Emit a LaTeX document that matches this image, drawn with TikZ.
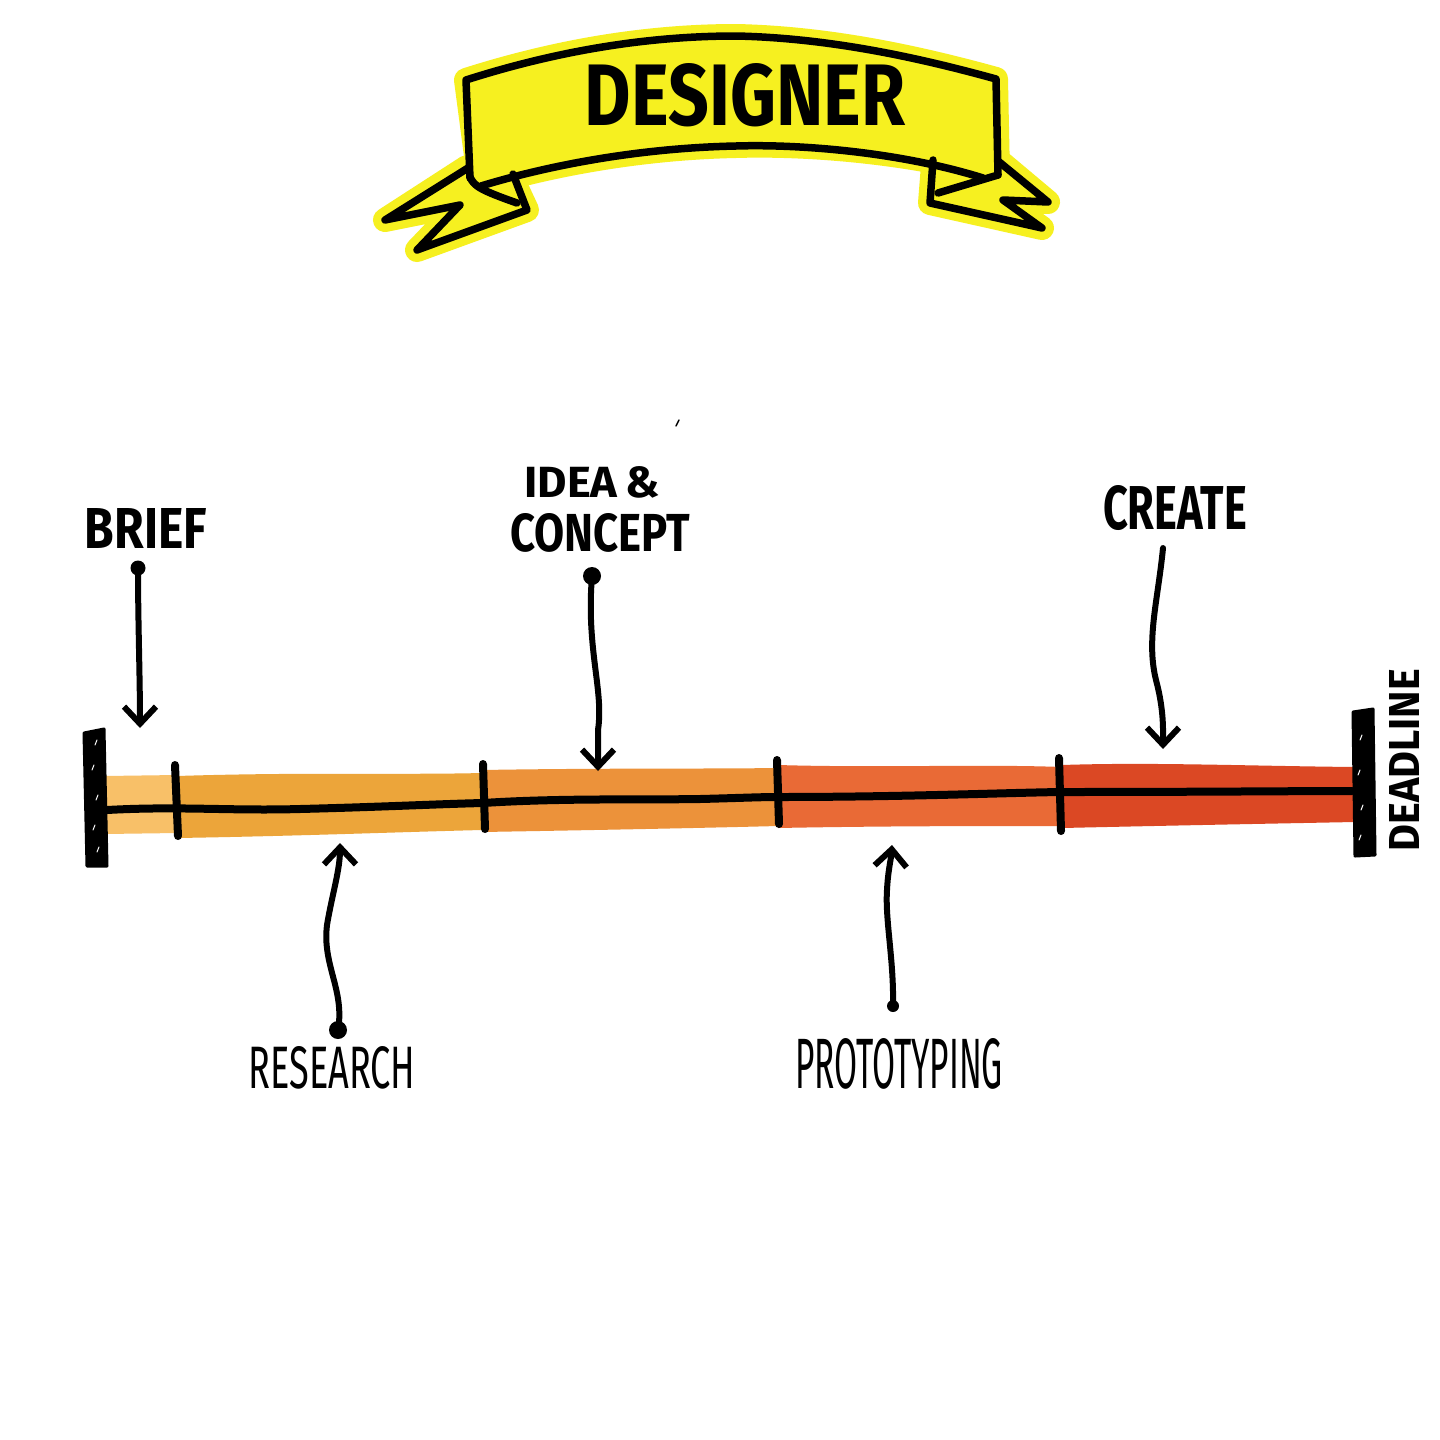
\documentclass[tikz,border=0pt]{standalone}
\usepackage{fontspec}
\setmainfont{Fira Sans}
\usepackage{graphicx}
\usetikzlibrary{arrows.meta}
\definecolor{banyel}{RGB}{246,240,32}
\definecolor{segA}{RGB}{248,192,104}
\definecolor{segB}{RGB}{236,165,58}
\definecolor{segC}{RGB}{236,146,58}
\definecolor{segD}{RGB}{233,106,54}
\definecolor{segE}{RGB}{219,72,36}
\newcommand\fitbox[3]{\resizebox{#1}{#2}{#3}}
\tikzset{
  ink/.style={draw=black, line width=7.5pt, line cap=round, line join=round},
  halo/.style={fill=banyel, draw=banyel, line width=24pt, line join=round},
  bandfill/.style={fill=banyel},
  arr/.style={draw=black, line width=6pt, line cap=round,
     -{Straight Barb[length=17pt,width=32pt,line width=6pt]}},
  dotnode/.style={circle, fill=black, inner sep=0pt, minimum size=15pt},
  lbl/.style={inner sep=0pt, text=black},
  tick/.style={draw=black, line width=8pt, line cap=round},
  capbar/.style={fill=black, draw=black, line width=3pt, line join=round},
  hatch/.style={draw=white, line width=1pt, line cap=round},
}
\begin{document}
\begin{tikzpicture}[x=1pt,y=-1pt]
\useasboundingbox (0,0) rectangle (1440,1440);
\fill[white] (0,0) rectangle (1440,1440);

% ---------- banner ----------
% halo
\path[halo] (467,167) -- (385,220) -- (460,205) -- (417,250) -- (527,210) -- (513,180) -- cycle;
\path[halo] (998,160) -- (1048,202) -- (1003,200) -- (1042,228) -- (930,203) -- (933,165) -- cycle;
\path[halo] (466,80) .. controls (560,50) and (650,36) .. (736,36)
   .. controls (830,38) and (920,58) .. (996,79) -- (998,176)
   .. controls (900,150) and (800,144) .. (736,146)
   .. controls (640,148) and (550,165) .. (480,186) -- cycle;
% fills
\path[bandfill] (467,167) -- (385,220) -- (460,205) -- (417,250) -- (527,210) -- (513,175) -- cycle;
\path[bandfill] (998,160) -- (1048,202) -- (1003,200) -- (1042,228) -- (930,203) -- (933,160) -- cycle;
\path[bandfill] (466,80) .. controls (560,50) and (650,36) .. (736,36)
   .. controls (830,38) and (920,58) .. (996,79) -- (998,176)
   .. controls (900,150) and (800,144) .. (736,146)
   .. controls (640,148) and (550,165) .. (480,186) -- cycle;
% outlines
\draw[ink] (470,178) -- (466,80) .. controls (560,50) and (650,36) .. (736,36)
   .. controls (830,38) and (920,58) .. (996,79) -- (998,175);
\draw[ink] (481,186) .. controls (550,165) and (640,148) .. (736,146)
   .. controls (800,144) and (900,152) .. (983,178);
\draw[ink] (468,168) -- (385,220) -- (460,205) -- (417,250) -- (527,210) -- (513,174);
\draw[ink] (470,177) .. controls (474,186) and (480,190) .. (517,203);
\draw[ink] (998,161) -- (1048,202) -- (1003,200) -- (1042,228) -- (930,203) -- (933,160);
\draw[ink] (998,175) -- (938,193);
\node[lbl] (title) at (745,95) {\fitbox{320pt}{62pt}{\bfseries DESIGNER}};

% stray mark
\draw[black, line width=1.5pt, line cap=round] (676,426) -- (679,420);

% ---------- timeline bar ----------
\fill[segA] (105,776) -- (177,775) -- (177,833) -- (105,834) -- cycle;
\fill[segB] (177,776) .. controls (300,772) and (400,775) .. (482,773) -- (482,830)
   .. controls (400,832) and (300,836) .. (177,838) -- cycle;
\fill[segC] (482,770) .. controls (600,768) and (700,769) .. (778,768) -- (778,826)
   .. controls (700,828) and (600,830) .. (482,832) -- cycle;
\fill[segD] (778,765) .. controls (880,768) and (980,764) .. (1062,767) -- (1062,826)
   .. controls (980,826) and (880,826) .. (778,828) -- cycle;
\fill[segE] (1062,765) .. controls (1150,762) and (1250,766) .. (1355,767) -- (1355,822)
   .. controls (1250,824) and (1150,826) .. (1062,828) -- cycle;

% centre line
\draw[ink, line width=8pt] (107,810) .. controls (180,806) and (230,811) .. (300,809)
   .. controls (380,807) and (440,804) .. (483,803)
   .. controls (560,798) and (640,800) .. (700,799)
   .. controls (740,798) and (760,797) .. (778,797)
   .. controls (900,797) and (1000,793) .. (1060,792)
   .. controls (1200,792) and (1300,791) .. (1352,791);

% ticks
\coordinate (k1a) at (175,765); \coordinate (k1b) at (178,836);
\coordinate (k2a) at (483,764); \coordinate (k2b) at (485,829);
\coordinate (k3a) at (777,760); \coordinate (k3b) at (779,824);
\coordinate (k4a) at (1059,758); \coordinate (k4b) at (1061,831);
\draw[tick] (k1a) -- (k1b);
\draw[tick] (k2a) -- (k2b);
\draw[tick] (k3a) -- (k3b);
\draw[tick] (k4a) -- (k4b);

% end caps
\path[capbar] (84,733) -- (104,729) -- (107,866) -- (87,866) -- cycle;
\draw[hatch] (95,745) -- (97,740); \draw[hatch] (92,770) -- (94,765);
\draw[hatch] (96,800) -- (98,795); \draw[hatch] (93,830) -- (95,825);
\draw[hatch] (97,852) -- (99,847);
\path[capbar] (1353,712) -- (1373,709) -- (1375,855) -- (1355,856) -- cycle;
\draw[hatch] (1360,740) -- (1362,735); \draw[hatch] (1358,775) -- (1360,770);
\draw[hatch] (1361,810) -- (1363,805); \draw[hatch] (1359,840) -- (1361,835);

% ---------- labels ----------
\node[lbl] (brief) at (146,528) {\fitbox{122pt}{40pt}{\bfseries BRIEF}};
\node[lbl] (idea) at (592,482) {\fitbox{135pt}{31pt}{\bfseries IDEA\,\&}};
\node[lbl] (concept) at (600,533) {\fitbox{180pt}{38pt}{\bfseries CONCEPT}};
\node[lbl] (create) at (1175,508) {\fitbox{144pt}{44pt}{\bfseries CREATE}};
\node[lbl] (research) at (332,1068) {\fitbox{167pt}{42pt}{RESEARCH}};
\node[lbl] (proto) at (899,1064) {\fitbox{208pt}{50pt}{PROTOTYPING}};
\node[lbl, rotate=90] (deadline) at (1404,760) {\fitbox{182pt}{30pt}{\bfseries DEADLINE}};

% ---------- arrows ----------
\node[dotnode] (dBrief) at (138,568) {};
\coordinate (tBrief) at (140,728);
\draw[arr] (dBrief.center) .. controls (138,620) and (140,680) .. (tBrief);

\node[dotnode, minimum size=18pt] (dIdea) at (592,576) {};
\coordinate (tIdea) at (598,771);
\draw[arr] (dIdea.center) .. controls (586,650) and (604,690) .. (598,730) -- (tIdea);

\coordinate (sCreate) at (1163,548);
\coordinate (tCreate) at (1163,749);
\draw[arr] (sCreate) .. controls (1158,600) and (1146,640) .. (1156,680)
   .. controls (1164,710) and (1163,730) .. (tCreate);

\node[dotnode, minimum size=18pt] (dRes) at (338,1030) {};
\coordinate (tRes) at (340,843);
\draw[arr] (dRes.center) .. controls (345,990) and (322,965) .. (327,925)
   .. controls (332,895) and (340,870) .. (tRes);

\node[dotnode, minimum size=12pt] (dProto) at (893,1006) {};
\coordinate (tProto) at (892,845);
\draw[arr] (dProto.center) .. controls (894,960) and (885,920) .. (887,890)
   .. controls (888,870) and (891,860) .. (tProto);
\end{tikzpicture}
\end{document}
